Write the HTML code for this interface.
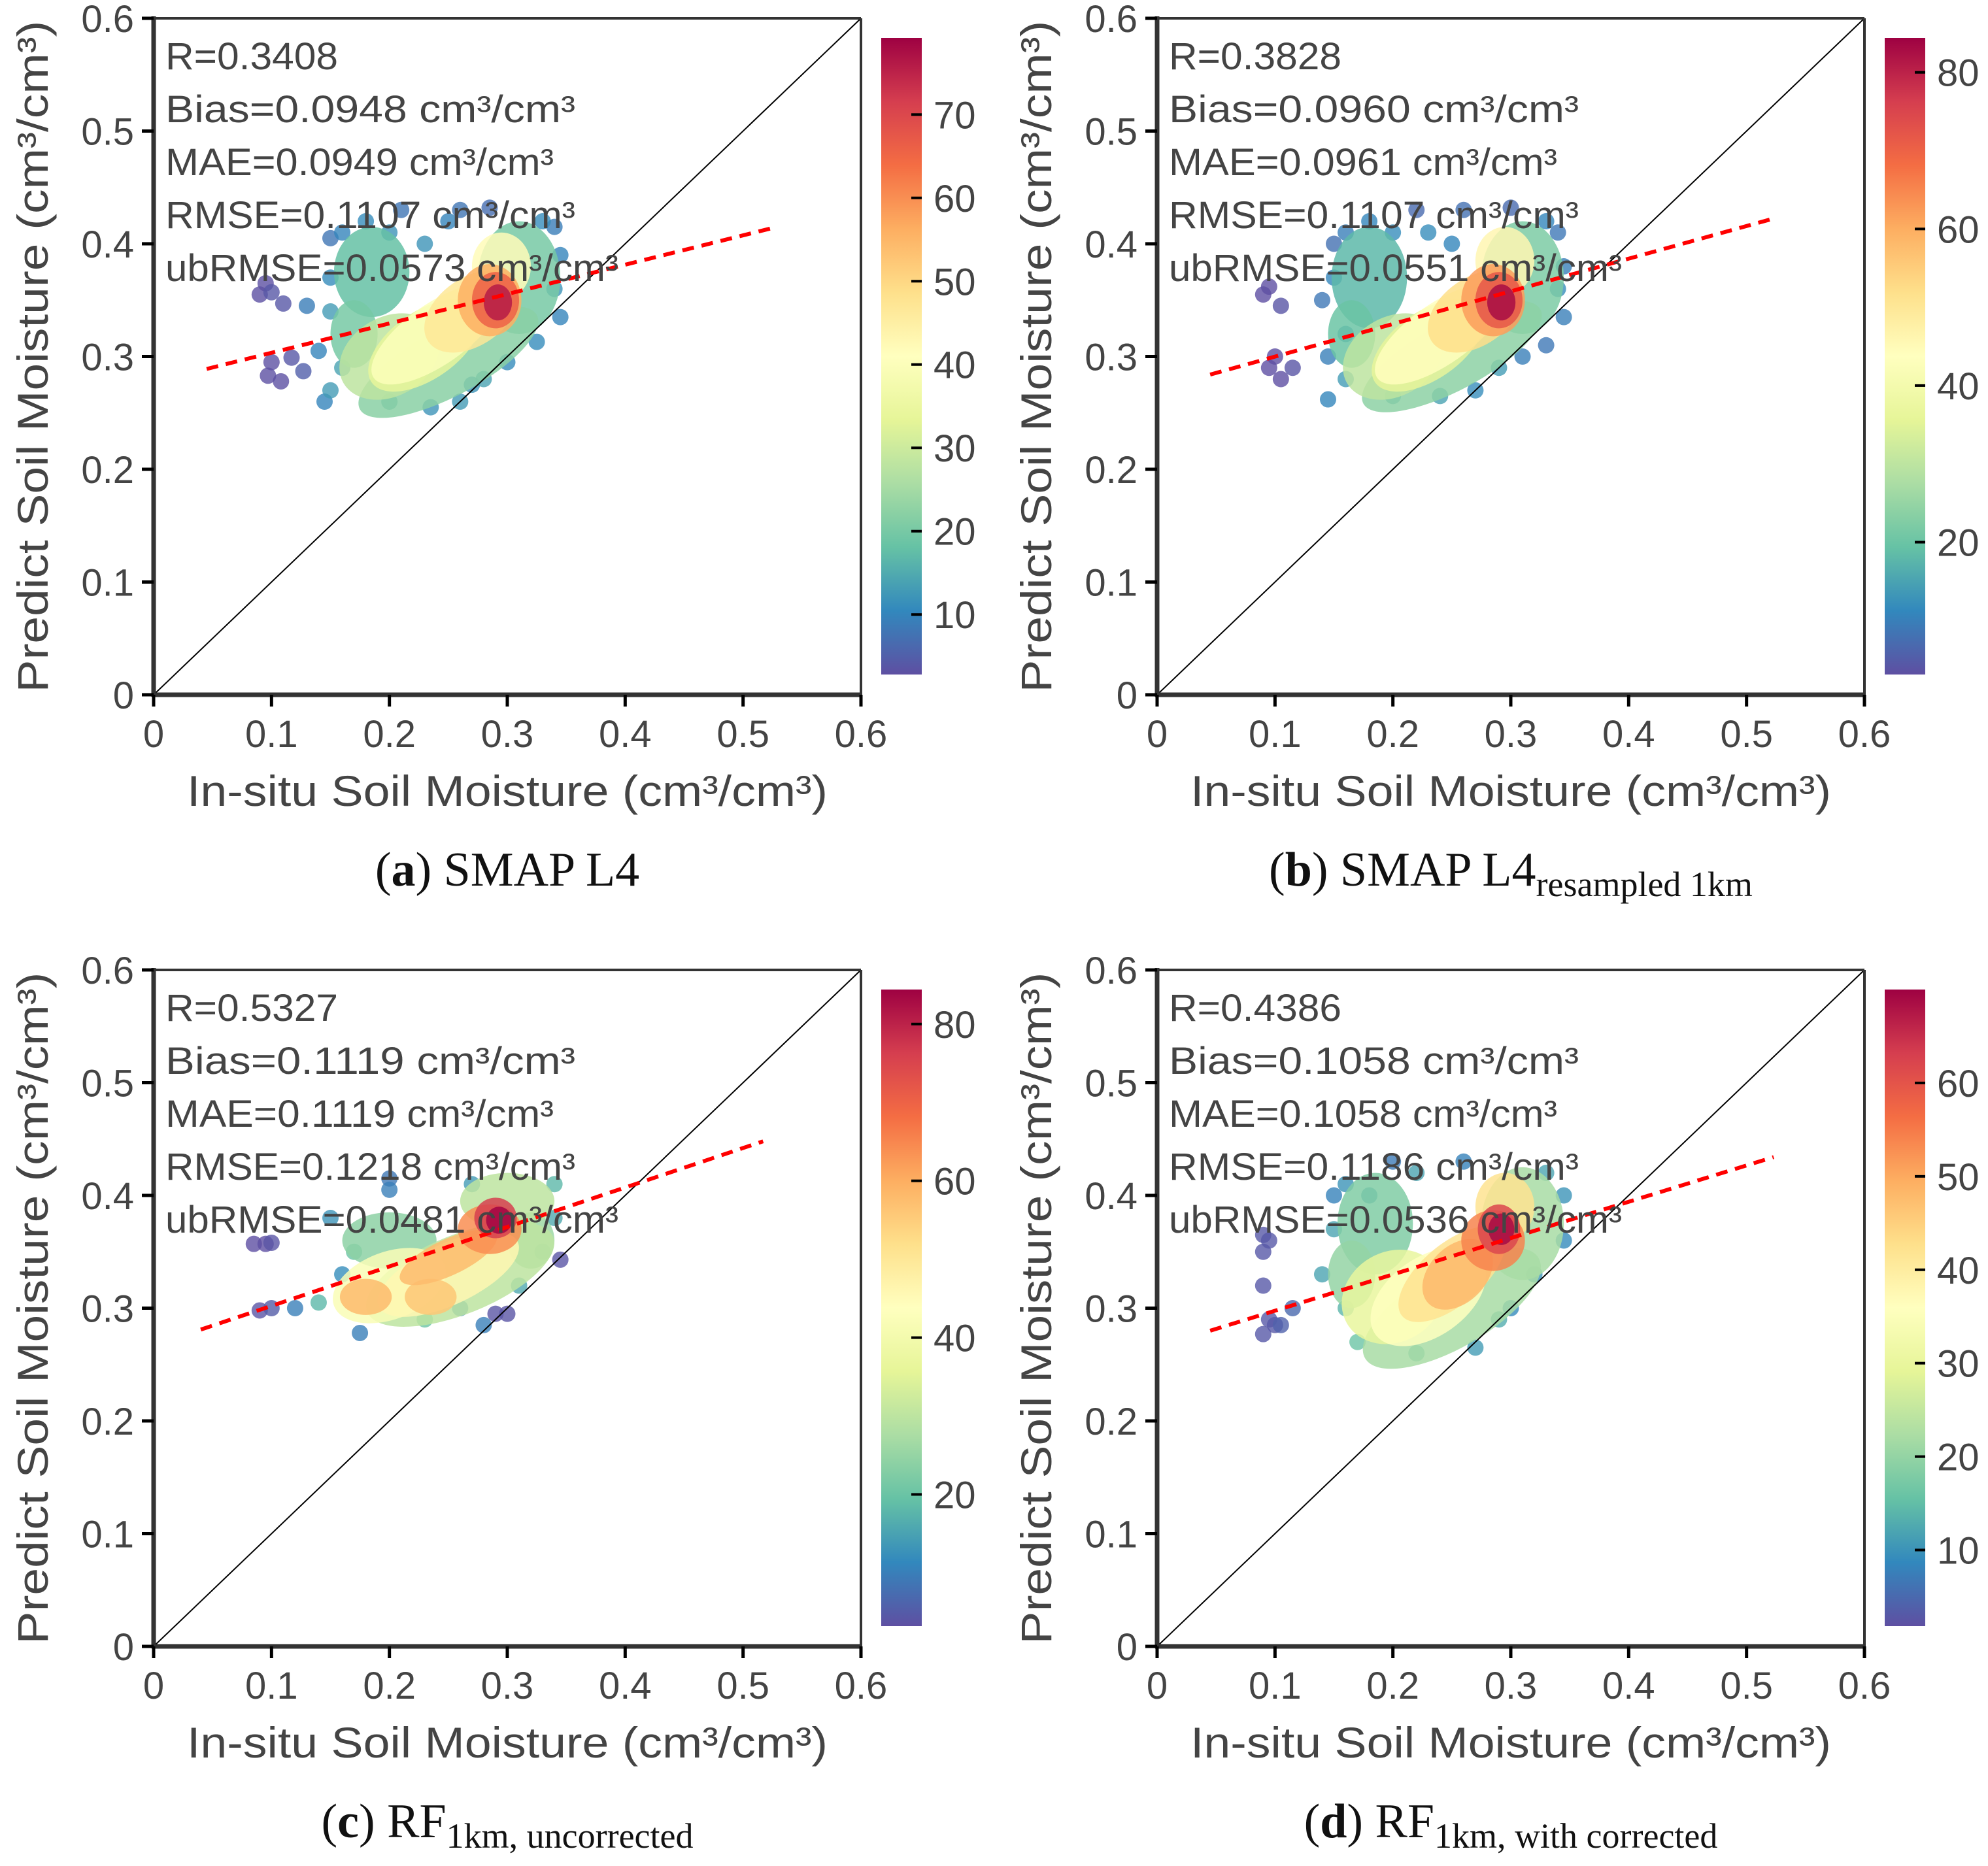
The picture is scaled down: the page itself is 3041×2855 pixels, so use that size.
<!DOCTYPE html>
<html><head><meta charset="utf-8"><style>
html,body{margin:0;padding:0;background:#fff;}
svg{display:block;}
text{font-family:"Liberation Sans",Arial,sans-serif;fill:#444;}
.serif{font-family:"Liberation Serif","Times New Roman",serif;fill:#111;}
</style></head><body>
<svg id="fig" width="3041" height="2855" viewBox="0 0 3041 2855" xmlns="http://www.w3.org/2000/svg"></svg>
<script>
// ---------- DATA ----------
const panelIds = ['a','b','c','d'];
const xTicks = [0,0.1,0.2,0.3,0.4,0.5,0.6];
const yTicks = [0,0.1,0.2,0.3,0.4,0.5,0.6];
const tickText = ['0','0.1','0.2','0.3','0.4','0.5','0.6'];
const statsA = ['R=0.3408','Bias=0.0948 cm³/cm³','MAE=0.0949 cm³/cm³','RMSE=0.1107 cm³/cm³','ubRMSE=0.0573 cm³/cm³'];
const statsB = ['R=0.3828','Bias=0.0960 cm³/cm³','MAE=0.0961 cm³/cm³','RMSE=0.1107 cm³/cm³','ubRMSE=0.0551 cm³/cm³'];
const statsC = ['R=0.5327','Bias=0.1119 cm³/cm³','MAE=0.1119 cm³/cm³','RMSE=0.1218 cm³/cm³','ubRMSE=0.0481 cm³/cm³'];
const statsD = ['R=0.4386','Bias=0.1058 cm³/cm³','MAE=0.1058 cm³/cm³','RMSE=0.1186 cm³/cm³','ubRMSE=0.0536 cm³/cm³'];
const cbRangeA = [2.8,79.2], cbRangeB = [3.1,84.4], cbRangeC = [3.2,84.4], cbRangeD = [1.85,70];
const cbTicksA = [10,20,30,40,50,60,70], cbTicksB = [20,40,60,80], cbTicksC = [20,40,60,80], cbTicksD = [10,20,30,40,50,60];
const fitA = [0.045,0.289,0.525,0.414], fitB = [0.045,0.284,0.525,0.423], fitC = [0.04,0.281,0.517,0.448], fitD = [0.045,0.280,0.523,0.434];
// density blobs: [cx, cy, rx, ry, angleDeg, density]
const blobsA = [
 [0.185,0.375,0.032,0.04,0,18],[0.25,0.295,0.085,0.03,28,22],[0.31,0.37,0.035,0.05,0,20],[0.17,0.32,0.02,0.03,0,20],
 [0.2,0.3,0.045,0.035,30,28],[0.23,0.31,0.055,0.03,35,34],[0.24,0.32,0.065,0.027,35,40],[0.295,0.38,0.025,0.03,0,42],
 [0.27,0.34,0.045,0.03,35,47],[0.285,0.35,0.027,0.032,0,56],[0.29,0.35,0.02,0.025,0,66],[0.292,0.348,0.012,0.016,0,76]];
const blobsB = [
 [0.18,0.37,0.032,0.045,0,18],[0.25,0.3,0.085,0.03,28,24],[0.31,0.37,0.035,0.05,0,22],[0.165,0.32,0.02,0.03,0,20],
 [0.2,0.3,0.045,0.035,30,30],[0.23,0.31,0.055,0.03,35,36],[0.24,0.32,0.065,0.027,35,44],[0.295,0.385,0.025,0.03,0,46],
 [0.27,0.34,0.045,0.03,35,52],[0.285,0.35,0.027,0.032,0,62],[0.29,0.35,0.02,0.025,0,72],[0.292,0.348,0.012,0.016,0,83]];
const blobsC = [
 [0.2,0.36,0.04,0.025,0,24],[0.26,0.33,0.085,0.035,22,30],[0.3,0.395,0.04,0.025,0,30],[0.32,0.36,0.02,0.025,0,26],
 [0.2,0.32,0.05,0.03,20,42],[0.25,0.33,0.065,0.027,25,46],[0.18,0.31,0.022,0.016,0,58],[0.235,0.31,0.022,0.016,0,56],
 [0.25,0.345,0.045,0.016,25,58],[0.285,0.37,0.027,0.022,0,64],[0.29,0.38,0.018,0.018,0,76],[0.293,0.378,0.011,0.012,0,84]];
const blobsD = [
 [0.185,0.375,0.032,0.045,0,18],[0.25,0.3,0.085,0.035,30,22],[0.31,0.375,0.035,0.05,0,22],[0.165,0.33,0.02,0.03,0,20],
 [0.2,0.31,0.045,0.04,30,30],[0.23,0.31,0.055,0.035,35,36],[0.25,0.33,0.055,0.027,40,42],[0.295,0.39,0.025,0.03,0,42],
 [0.255,0.33,0.035,0.025,45,48],[0.285,0.36,0.027,0.027,0,54],[0.29,0.37,0.018,0.022,0,62],[0.292,0.37,0.011,0.014,0,69]];
// outlier points: [x, y, density]
const ptsA = [[0.09,0.355,3],[0.095,0.365,3],[0.1,0.357,4],[0.11,0.347,4],[0.1,0.295,3],[0.097,0.283,3],[0.108,0.278,3],[0.117,0.299,4],[0.127,0.287,5],
 [0.15,0.405,8],[0.13,0.345,9],[0.14,0.305,10],[0.145,0.26,10],[0.21,0.43,8],[0.26,0.43,8],[0.285,0.432,7],[0.34,0.415,9],[0.345,0.39,10],[0.345,0.335,10],[0.325,0.313,11],[0.27,0.275,12],[0.235,0.255,12],[0.3,0.295,11],
 [0.16,0.41,10],[0.18,0.42,11],[0.2,0.41,12],[0.23,0.4,12],[0.25,0.42,10],[0.15,0.37,11],[0.15,0.34,13],[0.16,0.29,14],[0.15,0.27,13],[0.2,0.26,16],[0.26,0.26,13],[0.33,0.42,11],[0.34,0.36,12],[0.28,0.28,14]];
const ptsB = [[0.09,0.355,3],[0.095,0.362,3],[0.105,0.345,4],[0.1,0.3,3],[0.095,0.29,3],[0.105,0.28,3],[0.115,0.29,4],
 [0.15,0.4,8],[0.14,0.35,9],[0.145,0.3,10],[0.145,0.262,11],[0.22,0.43,7],[0.26,0.43,8],[0.3,0.432,7],[0.34,0.41,9],[0.345,0.38,10],[0.345,0.335,10],[0.33,0.31,9],[0.31,0.3,10],[0.27,0.27,12],
 [0.16,0.41,10],[0.18,0.42,11],[0.2,0.41,12],[0.23,0.41,12],[0.25,0.4,11],[0.15,0.37,11],[0.16,0.32,13],[0.16,0.28,14],[0.2,0.265,16],[0.24,0.265,15],[0.33,0.42,11],[0.34,0.36,12],[0.29,0.29,14]];
const ptsC = [[0.085,0.357,3],[0.095,0.357,3],[0.1,0.358,4],[0.09,0.298,4],[0.1,0.3,5],[0.29,0.295,4],[0.3,0.295,4],[0.345,0.343,4],
 [0.2,0.415,9],[0.175,0.278,10],[0.33,0.35,10],[0.12,0.3,10],[0.16,0.33,12],[0.15,0.38,13],[0.28,0.285,10],[0.26,0.3,12],
 [0.2,0.405,10],[0.27,0.41,14],[0.34,0.41,18],[0.34,0.38,16],[0.14,0.305,18],[0.31,0.32,16],[0.23,0.29,20],[0.17,0.35,20]];
const ptsD = [[0.09,0.365,3],[0.095,0.36,3],[0.09,0.35,3],[0.09,0.32,3],[0.095,0.29,3],[0.1,0.285,3],[0.09,0.277,3],[0.105,0.285,4],[0.115,0.3,5],
 [0.15,0.4,8],[0.2,0.43,7],[0.26,0.43,8],[0.345,0.4,10],[0.345,0.36,9],[0.32,0.33,10],[0.3,0.3,9],[0.27,0.265,11],[0.14,0.33,12],
 [0.16,0.41,10],[0.18,0.4,11],[0.22,0.42,12],[0.15,0.37,12],[0.16,0.3,14],[0.17,0.27,16],[0.22,0.26,15],[0.33,0.42,12],[0.29,0.29,13]];

// ---------- LAYOUT ----------
const PW = 1082, PH = 1035;
const origins = [[235,28],[1770,28],[235,1484],[1770,1484]];
const stats = [statsA,statsB,statsC,statsD];
const ranges = [cbRangeA,cbRangeB,cbRangeC,cbRangeD];
const cbTicks = [cbTicksA,cbTicksB,cbTicksC,cbTicksD];
const fits = [fitA,fitB,fitC,fitD];
const blobs = [blobsA,blobsB,blobsC,blobsD];
const pts = [ptsA,ptsB,ptsC,ptsD];
const captions = [
 ['(','a',') SMAP L4',''],
 ['(','b',') SMAP L4','resampled 1km'],
 ['(','c',') RF','1km, uncorrected'],
 ['(','d',') RF','1km, with corrected']];

const NS = 'http://www.w3.org/2000/svg';
const svg = document.getElementById('fig');
function mk(tag, attrs, parent){ const e=document.createElementNS(NS,tag); for(const k in attrs) e.setAttribute(k,attrs[k]); (parent||svg).appendChild(e); return e; }

const stops = [[94,79,162],[50,136,189],[102,194,165],[171,221,164],[230,245,152],[255,255,191],[254,224,139],[253,174,97],[244,109,67],[213,62,79],[158,1,66]];
function cmap(t){ t=Math.max(0,Math.min(1,t)); const f=t*10, i=Math.min(9,Math.floor(f)), r=f-i; const a=stops[i], b=stops[i+1];
 return 'rgb('+[0,1,2].map(k=>Math.round(a[k]+(b[k]-a[k])*r)).join(',')+')'; }

panelIds.forEach((pid, p) => {
 const [ox, oy] = origins[p];
 const sx = v => ox + v / 0.6 * PW;
 const sy = v => oy + PH - v / 0.6 * PH;
 const [vmin, vmax] = ranges[p];
 const norm = v => (v - vmin) / (vmax - vmin);
 const g = mk('g', {});
 
 

 const cloud = mk('g', {}, g);
 
 
 const sortedPts = pts[p].slice().sort((a,b)=>a[2]-b[2]);
 sortedPts.forEach(d => {
  const c = mk('circle', {cx: sx(d[0]), cy: sy(d[1]), r: 12.5, fill: cmap(norm(d[2])), 'fill-opacity': 0.8}, cloud);
  
  
 });
 blobs[p].slice().sort((a,b)=>a[5]-b[5]).forEach(d => {
  const cx = sx(d[0]), cy = sy(d[1]);
  const e = mk('ellipse', {cx: cx, cy: cy, rx: d[2]/0.6*PW, ry: d[3]/0.6*PH, fill: cmap(norm(d[5])), 'fill-opacity': 0.85, transform: 'rotate(' + (-d[4]) + ' ' + cx + ' ' + cy + ')'}, cloud);
  
  
 });

 const diag = mk('line', {x1: sx(0), y1: sy(0), x2: sx(0.6), y2: sy(0.6), stroke: '#000', 'stroke-width': 2}, g);
 
 
 const f = fits[p];
 const fl = mk('line', {x1: sx(f[0]), y1: sy(f[1]), x2: sx(f[2]), y2: sy(f[3]), stroke: '#f00', 'stroke-width': 6, 'stroke-dasharray': '18 12'}, g);
 
 

 const fr = mk('g', {}, g);
 
 
 mk('line', {x1: ox, y1: oy, x2: ox+PW, y2: oy, stroke: '#333', 'stroke-width': 4}, fr);
 mk('line', {x1: ox+PW, y1: oy, x2: ox+PW, y2: oy+PH, stroke: '#333', 'stroke-width': 4}, fr);
 mk('line', {x1: ox, y1: oy-3, x2: ox, y2: oy+PH+3, stroke: '#333', 'stroke-width': 7}, fr);
 mk('line', {x1: ox-3, y1: oy+PH, x2: ox+PW+2, y2: oy+PH, stroke: '#333', 'stroke-width': 7}, fr);

 xTicks.forEach((v, i) => {
  mk('line', {x1: sx(v), y1: oy+PH, x2: sx(v), y2: oy+PH+18, stroke: '#000', 'stroke-width': 5}, g);
  const t = mk('text', {x: sx(v), y: oy+PH+80, 'font-size': 58, 'text-anchor': 'middle'}, g);
  t.textContent = tickText[i];
  
  
 });
 yTicks.forEach((v, i) => {
  mk('line', {x1: ox-18, y1: sy(v), x2: ox, y2: sy(v), stroke: '#000', 'stroke-width': 5}, g);
  const t = mk('text', {x: ox-30, y: sy(v)+21, 'font-size': 58, 'text-anchor': 'end'}, g);
  t.textContent = tickText[i];
  
  
 });

 const xt = mk('text', {x: ox+PW/2, y: oy+PH+170, 'font-size': 66, 'text-anchor': 'middle', textLength: 980, lengthAdjust: 'spacingAndGlyphs'}, g);
 xt.textContent = 'In-situ Soil Moisture (cm³/cm³)';
 
 
 const yt = mk('text', {x: 0, y: 0, 'font-size': 66, 'text-anchor': 'middle', textLength: 1028, lengthAdjust: 'spacingAndGlyphs', transform: 'translate(' + (ox-162) + ',' + (oy+PH/2) + ') rotate(-90)'}, g);
 yt.textContent = 'Predict Soil Moisture (cm³/cm³)';
 
 

 stats[p].forEach((s, i) => {
  const t = mk('text', {x: ox+18, y: oy+78+i*81, 'font-size': 58, textLength: Math.round(s.length*33), lengthAdjust: 'spacingAndGlyphs'}, g);
  t.textContent = s;
  
  
 });

 const cbx = ox + PW + 31, cbTop = oy + 30, cbH = 974, cbW = 62;
 const gid = 'grad' + pid;
 const defs = mk('defs', {}, g);
 const lg = mk('linearGradient', {id: gid, x1: 0, y1: 1, x2: 0, y2: 0}, defs);
 for (let k = 0; k <= 10; k++) mk('stop', {offset: k/10, 'stop-color': 'rgb(' + stops[k].join(',') + ')'}, lg);
 const cb = mk('rect', {x: cbx, y: cbTop, width: cbW, height: cbH, fill: 'url(#' + gid + ')'}, g);
 
 
 cbTicks[p].forEach(v => {
  const yy = cbTop + cbH - norm(v) * cbH;
  mk('line', {x1: cbx+cbW-16, y1: yy, x2: cbx+cbW, y2: yy, stroke: '#000', 'stroke-width': 4}, g);
  const t = mk('text', {x: cbx+cbW+18, y: yy+21, 'font-size': 58}, g);
  t.textContent = String(v);
  
  
 });

 const cap = captions[p];
 const ct = mk('text', {x: ox+PW/2, y: oy+PH+292, 'font-size': 74, 'text-anchor': 'middle', class: 'serif'}, g);
 
 
 mk('tspan', {}, ct).textContent = cap[0];
 mk('tspan', {'font-weight': 'bold'}, ct).textContent = cap[1];
 mk('tspan', {}, ct).textContent = cap[2];
 if (cap[3]) mk('tspan', {'font-size': 54, dy: 16}, ct).textContent = cap[3];
});
</script>
</body></html>
